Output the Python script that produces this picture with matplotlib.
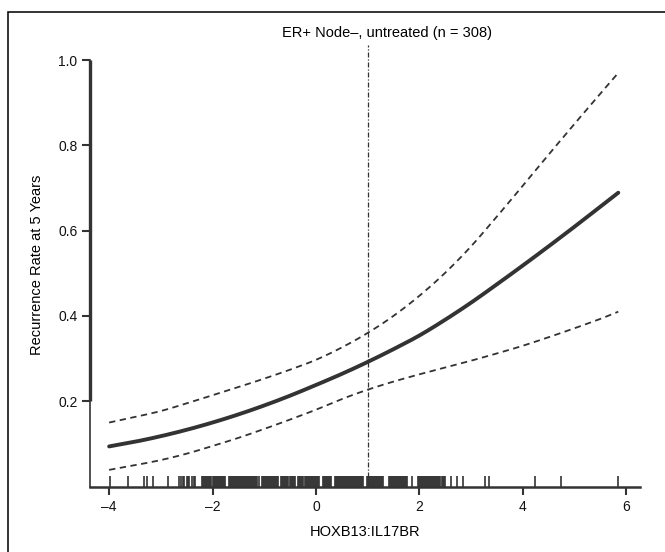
import matplotlib
matplotlib.use("Agg")
import matplotlib.pyplot as plt
from matplotlib.patches import Rectangle
import numpy as np

plt.rcParams['font.family'] = ['Liberation Sans', 'DejaVu Sans']

# ---- data ----
title = "ER+ Node\u2013, untreated (n = 308)"
xlabel = "HOXB13:IL17BR"
ylabel = "Recurrence Rate at 5 Years"

x_curve = [-4.0, -3.5, -3.0, -2.5, -2.0, -1.5, -1.0, -0.5, 0.0, 0.5, 1.0,
           1.5, 2.0, 2.5, 3.0, 3.5, 4.0, 4.5, 5.0, 5.5, 5.85]
rate = [0.094, 0.105, 0.118, 0.133, 0.150, 0.169, 0.190, 0.213, 0.238, 0.264, 0.292,
        0.322, 0.354, 0.391, 0.431, 0.474, 0.518, 0.563, 0.609, 0.656, 0.689]
lower = [0.039, 0.050, 0.062, 0.077, 0.095, 0.114, 0.135, 0.157, 0.180, 0.205, 0.227,
         0.246, 0.263, 0.279, 0.295, 0.312, 0.330, 0.350, 0.371, 0.393, 0.410]
upper = [0.150, 0.163, 0.177, 0.195, 0.214, 0.233, 0.253, 0.274, 0.297, 0.326, 0.360,
         0.400, 0.447, 0.501, 0.563, 0.633, 0.705, 0.778, 0.850, 0.921, 0.970]

cutoff = 1.0

rug = [-3.98, -3.63, -3.33, -3.27, -3.15, -2.87,
       -2.64, -2.60, -2.58, -2.55, -2.49, -2.47, -2.45, -2.39, -2.36, -2.33,
       -2.21, -2.19, -2.17, -2.15, -2.13, -2.11, -2.09, -2.06, -2.04, -2.02, -2.00,
       -1.98, -1.96, -1.94, -1.92, -1.90, -1.88, -1.86, -1.84, -1.82, -1.80, -1.78, -1.76,
       -1.69, -1.67, -1.65, -1.63, -1.61, -1.59, -1.57, -1.55, -1.53, -1.51, -1.49,
       -1.47, -1.45, -1.43, -1.41, -1.39, -1.37, -1.35, -1.33, -1.31, -1.29, -1.27,
       -1.25, -1.23, -1.21, -1.19, -1.17, -1.15, -1.13, -1.11,
       -1.05, -1.03, -1.01, -0.99, -0.97, -0.95, -0.93, -0.91, -0.89, -0.87, -0.85,
       -0.83, -0.81, -0.79, -0.77, -0.75, -0.73,
       -0.67, -0.65, -0.63, -0.61, -0.59, -0.57, -0.55, -0.53, -0.51, -0.49, -0.47,
       -0.45, -0.43, -0.41,
       -0.34, -0.32, -0.30, -0.28, -0.26, -0.24, -0.22, -0.20, -0.18, -0.16, -0.14,
       -0.12, -0.10, -0.08, -0.06, -0.04, -0.02, 0.00, 0.02, 0.04, 0.06,
       0.14, 0.16, 0.18, 0.20, 0.22, 0.24, 0.26, 0.28, 0.30,
       0.36, 0.38, 0.40, 0.42, 0.44, 0.46, 0.48, 0.50, 0.52, 0.54, 0.56, 0.58, 0.60,
       0.62, 0.64, 0.66, 0.68, 0.70, 0.72, 0.74, 0.76, 0.78, 0.80, 0.82, 0.84, 0.86,
       0.88, 0.90, 0.92,
       0.98, 1.00, 1.02, 1.04, 1.06, 1.08, 1.10, 1.12, 1.14, 1.16, 1.18, 1.20, 1.22,
       1.24, 1.26, 1.28, 1.30,
       1.41, 1.43, 1.45, 1.47, 1.49, 1.51, 1.53, 1.55, 1.57, 1.59, 1.61, 1.63, 1.65,
       1.67, 1.69, 1.71, 1.73, 1.75, 1.77,
       1.85,
       1.97, 1.99, 2.01, 2.03, 2.05, 2.07, 2.09, 2.11, 2.13, 2.15, 2.17, 2.19, 2.21,
       2.23, 2.25, 2.27, 2.29, 2.31, 2.33, 2.35, 2.37, 2.39, 2.41, 2.43, 2.45, 2.47, 2.49,
       2.62, 2.73, 2.85, 3.27, 3.35, 4.24, 4.75, 5.85]

xticks = [-4, -2, 0, 2, 4, 6]
yticks = [0.2, 0.4, 0.6, 0.8, 1.0]
ytick_labels = ["0.2", "0.4", "0.6", "0.8", "1.0"]

# ---- figure ----
W, H = 665, 552
fig = plt.figure(figsize=(W / 100, H / 100), dpi=100)
col = "#333333"

# outer frame
fig.patches.append(Rectangle((8 / W, -0.05), 1.1, 1 - 12 / H + 0.05,
                             transform=fig.transFigure, fill=False,
                             edgecolor="#111111", linewidth=1.2))

ax_left, ax_right = 90 / W, 640 / W
ax_bottom = (H - 486.5) / H
ylim_top = 1.04
top_px = 486.5 - ylim_top * 426.4
ax_top = (H - top_px) / H
ax = fig.add_axes([ax_left, ax_bottom, ax_right - ax_left, ax_top - ax_bottom])
ax.set_xlim(-4.37, 6.27)
ax.set_ylim(0, ylim_top)


def smooth(xs, ys, n=30):
    # Catmull-Rom curve through the read points (drawing only)
    xs = np.asarray(xs, float)
    ys = np.asarray(ys, float)
    px = np.concatenate([[2 * xs[0] - xs[1]], xs, [2 * xs[-1] - xs[-2]]])
    py = np.concatenate([[2 * ys[0] - ys[1]], ys, [2 * ys[-1] - ys[-2]]])
    ox, oy = [], []
    t = np.linspace(0, 1, n, endpoint=False)
    for i in range(1, len(px) - 2):
        p0, p1, p2, p3 = [np.array([px[j], py[j]]) for j in range(i - 1, i + 3)]
        for tt in t:
            pt = 0.5 * ((2 * p1) + (-p0 + p2) * tt +
                        (2 * p0 - 5 * p1 + 4 * p2 - p3) * tt ** 2 +
                        (-p0 + 3 * p1 - 3 * p2 + p3) * tt ** 3)
            ox.append(pt[0])
            oy.append(pt[1])
    ox.append(xs[-1])
    oy.append(ys[-1])
    return ox, oy


ax.plot(*smooth(x_curve, rate), color=col, linewidth=2.8, solid_capstyle='round')
ax.plot(*smooth(x_curve, lower), color=col, linewidth=1.3, linestyle=(0, (3.5, 2.5)))
ax.plot(*smooth(x_curve, upper), color=col, linewidth=1.3, linestyle=(0, (3.5, 2.5)))

ax.plot([cutoff, cutoff], [0, 1.035], color=col, linewidth=0.9,
        linestyle=(0, (4, 1.5, 1, 1.5)))

# rug
ax.vlines(rug, 0, 0.024, color=col, linewidth=1.2)

for s in ["top", "right"]:
    ax.spines[s].set_visible(False)
ax.spines["bottom"].set_linewidth(1.8)
ax.spines["bottom"].set_color(col)
ax.spines["left"].set_linewidth(1.2)
ax.spines["left"].set_color(col)
ax.spines["left"].set_bounds(0, 1.0)
# thick axis line over the tick range
ax.plot([-4.37, -4.37], [0.2, 1.0], color=col, linewidth=2.4,
        clip_on=False, solid_capstyle='butt')

ax.set_xticks(xticks)
ax.set_xticklabels([str(t).replace("-", "\u2013") for t in xticks])
ax.set_yticks(yticks)
ax.set_yticklabels(ytick_labels)
ax.tick_params(axis='both', direction='out', length=6, width=1.5, color=col,
               labelsize=10, labelcolor="#111111")
ax.tick_params(axis='x', pad=4)
ax.tick_params(axis='y', pad=3)

ax.set_xlabel(xlabel, fontsize=10.5, labelpad=8)
ax.set_ylabel(ylabel, fontsize=10.5, labelpad=10)
ax.patch.set_visible(False)

fig.text(387 / W, 1 - 33 / H, title, ha='center', va='center', fontsize=10.5)

fig.savefig("out.png", dpi=100)
